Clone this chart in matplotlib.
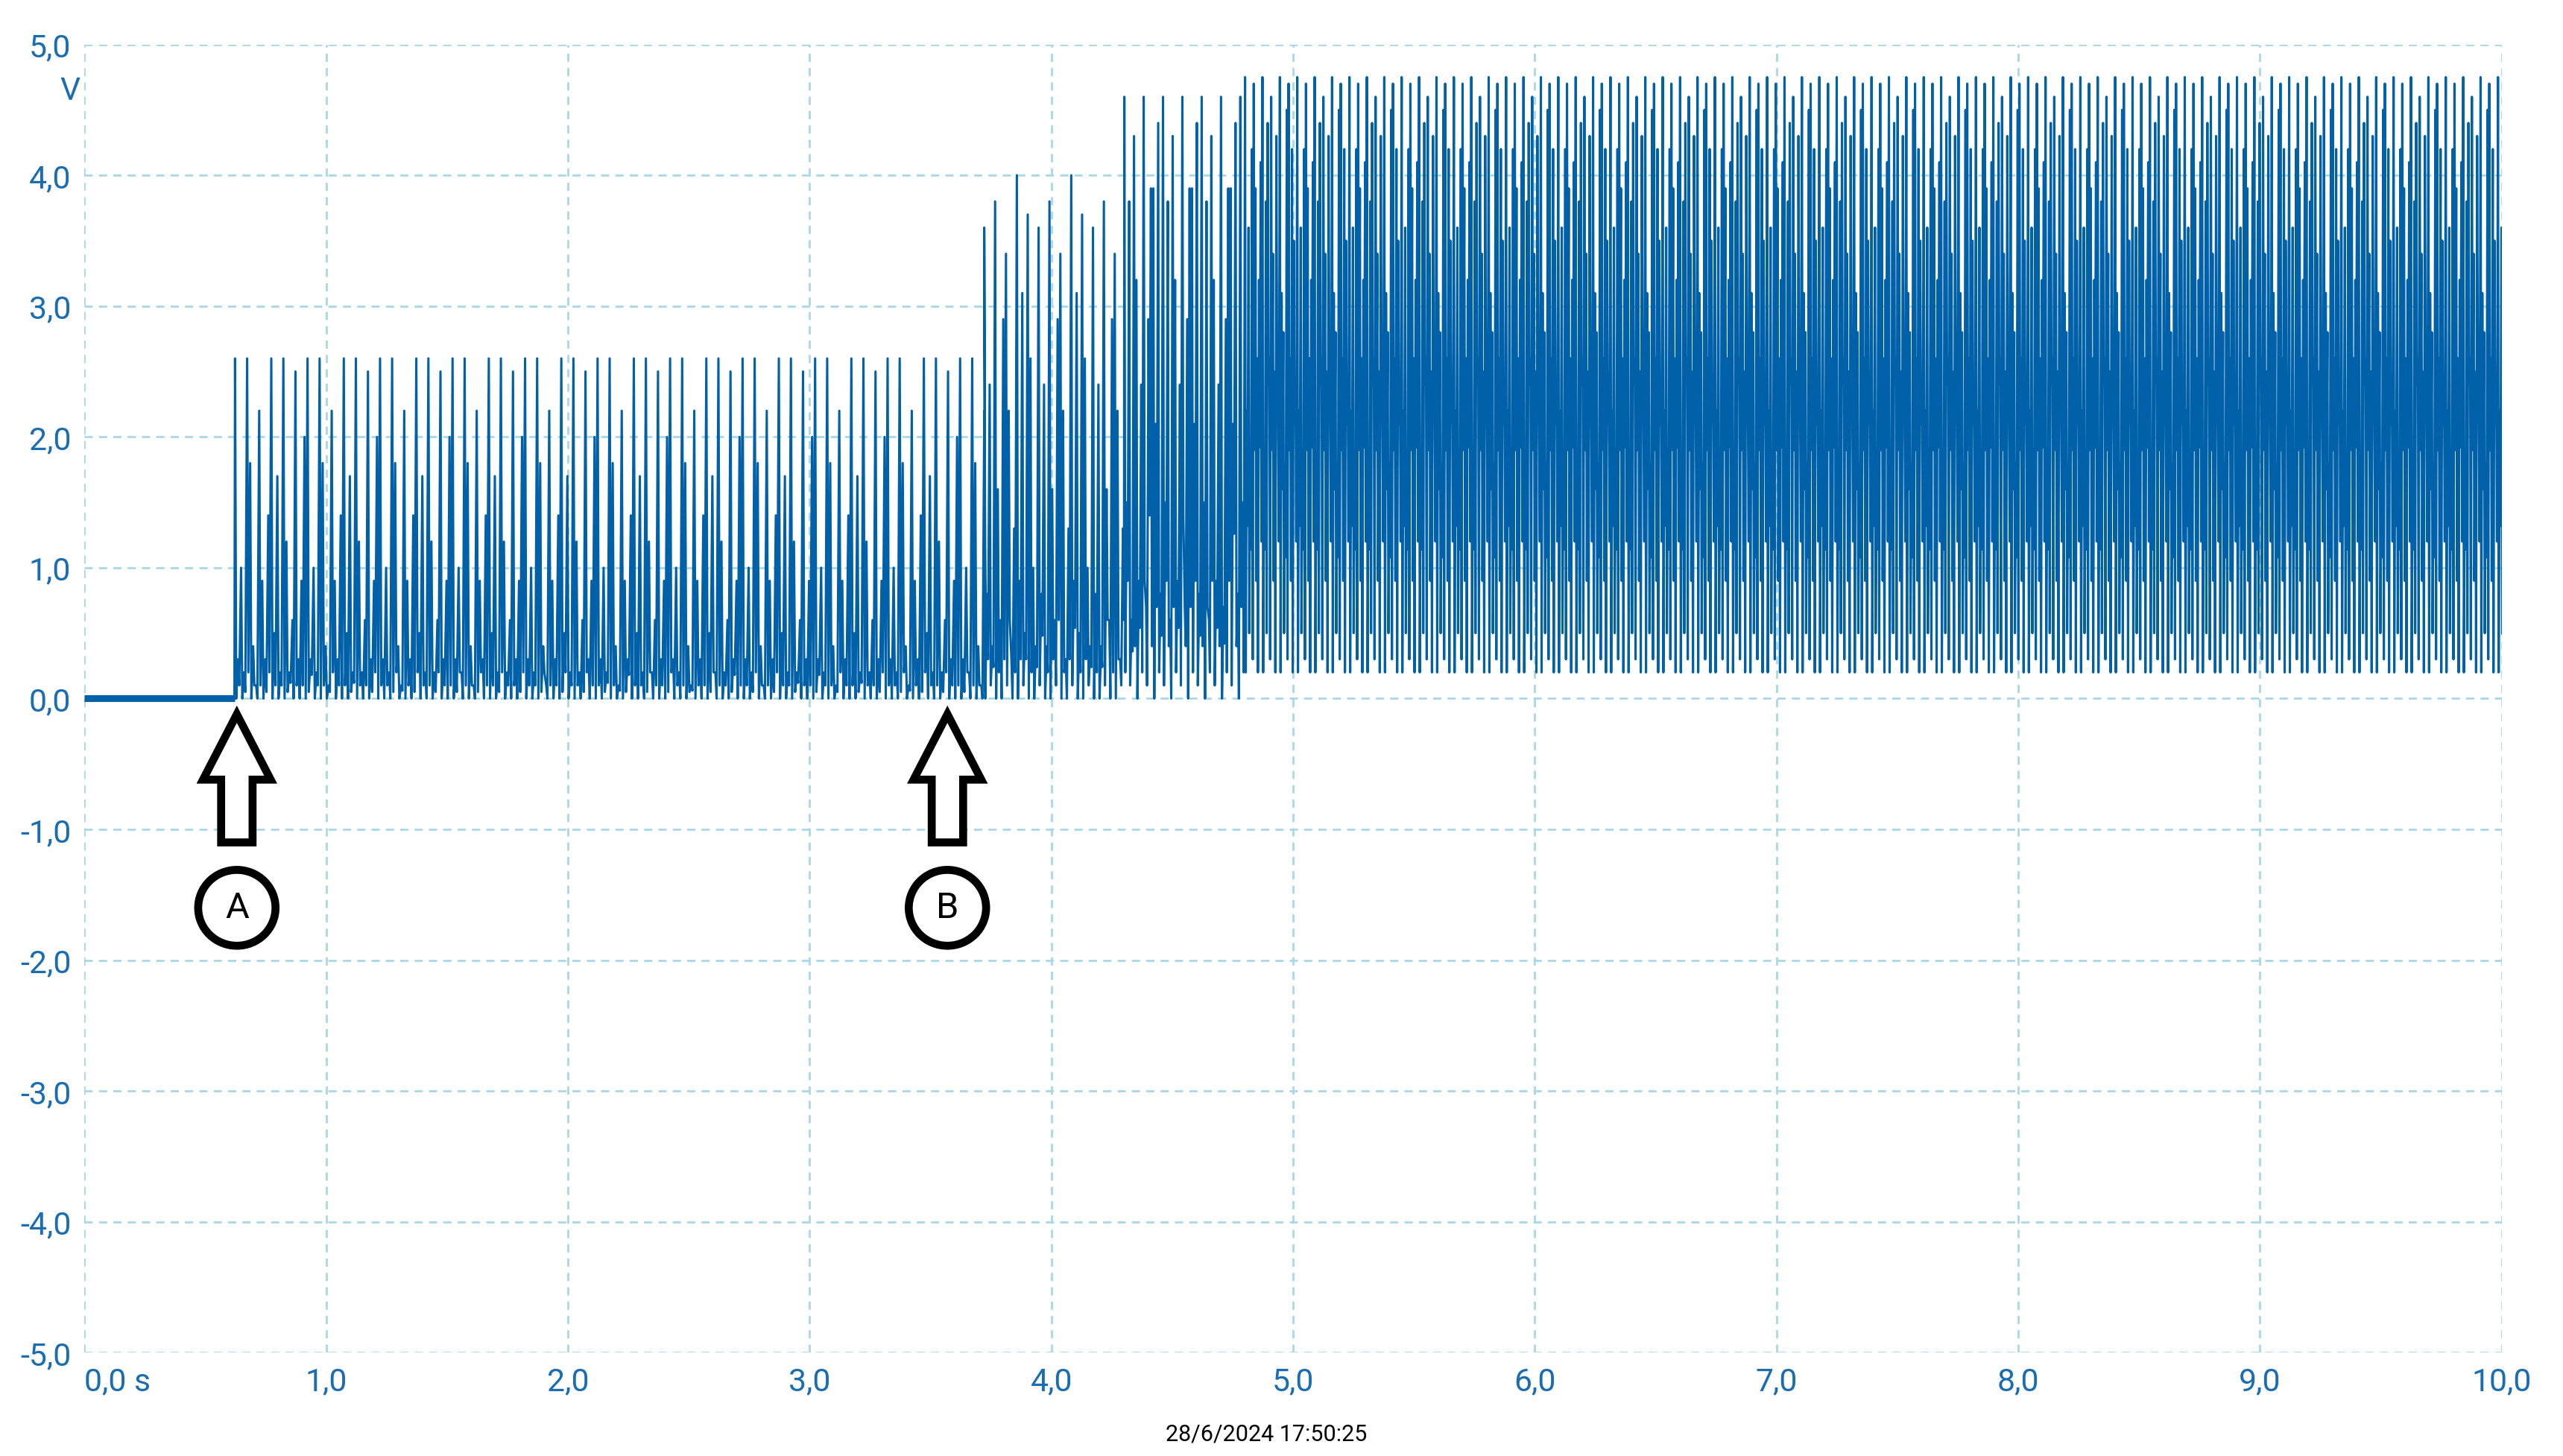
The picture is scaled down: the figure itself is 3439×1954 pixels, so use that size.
import matplotlib
matplotlib.use("Agg")
import matplotlib.pyplot as plt
from matplotlib.patches import Polygon, Ellipse

# Signal regions (seconds)
REGION_START = [0.62, 3.72, 4.30, 4.80]
REGION_END = [3.72, 4.30, 4.80, 10.0]
REGION_PERIOD = [0.050, 0.045, 0.040, 0.036]
# spike heights (V) within one cycle, several cycle shapes per region
REGION_PATTERNS = [
    [[2.6, 0.3, 1.0, 0.2], [2.6, 1.8, 0.4, 0.1], [2.2, 0.9, 0.3, 1.4],
     [2.6, 0.5, 1.7, 0.2], [2.6, 1.2, 0.2, 0.6], [2.5, 0.3, 0.9, 2.0]],
    [[3.6, 0.8, 2.4, 0.4], [3.8, 1.6, 0.6, 2.9], [3.4, 2.2, 0.3, 1.3],
     [4.0, 0.9, 3.1, 0.5], [3.7, 2.6, 1.0, 0.4]],
    [[4.6, 1.5, 3.8, 0.6], [4.3, 3.2, 0.9, 2.4], [4.6, 0.7, 2.9, 3.9],
     [3.9, 2.1, 4.4, 0.8]],
    [[4.75, 2.2, 3.6, 1.9, 4.2], [4.7, 3.9, 2.6, 3.2, 4.1], [4.75, 1.9, 3.8, 4.4, 2.6],
     [4.6, 3.4, 2.5, 4.3, 2.1], [4.75, 3.1, 2.8, 1.8, 4.5], [4.7, 2.6, 4.2, 3.5, 2.4]],
]
# trough levels (V) after each spike, cycled per region
REGION_TROUGHS = [
    [0.0, 0.1, 0.0, 0.05, 0.2, 0.0, 0.1],
    [0.0, 0.3, 0.1, 0.6, 0.0, 0.2],
    [0.2, 0.9, 0.1, 1.4, 0.4, 0.0, 0.7],
    [0.2, 1.6, 0.5, 2.4, 0.3, 1.9, 0.9, 0.2, 2.8, 1.2],
]
FLAT_END = 0.62

XTICKS = [0, 1, 2, 3, 4, 5, 6, 7, 8, 9, 10]
XTICK_LABELS = ["0,0 s", "1,0", "2,0", "3,0", "4,0", "5,0", "6,0", "7,0", "8,0", "9,0", "10,0"]
YTICKS = [-5, -4, -3, -2, -1, 0, 1, 2, 3, 4, 5]
YTICK_LABELS = ["-5,0", "-4,0", "-3,0", "-2,0", "-1,0", "0,0", "1,0", "2,0", "3,0", "4,0", "5,0"]
MARKERS = ["A", "B"]
MARKER_X = [0.63, 3.57]
STAMP = "28/6/2024 17:50:25"

BLUE = "#0060a8"
LABEL = "#1a6db0"
GRID = "#a8d8e6"

plt.rcParams["font.family"] = ["Roboto", "DejaVu Sans"]

# build the trace vertices
xs, ys = [0.0, FLAT_END], [0.0, 0.0]
for start, end, period, pats, troughs in zip(REGION_START, REGION_END, REGION_PERIOD,
                                             REGION_PATTERNS, REGION_TROUGHS):
    t = start
    k = 0
    n = 0
    while t < end:
        pat = pats[k % len(pats)]
        step = period / len(pat)
        for j, h in enumerate(pat):
            t0 = t + j * step
            if t0 >= end:
                break
            lo = min(troughs[n % len(troughs)], h * 0.6)
            xs += [t0 + step * 0.2, t0 + step * 0.6]
            ys += [h, lo]
            n += 1
        t += period
        k += 1

fig = plt.figure(figsize=(15.632, 8.886), dpi=220)
ax = fig.add_axes([0.033, 0.071, 0.943, 0.898])
ax.plot(xs[:2], ys[:2], color=BLUE, lw=3.0, solid_capstyle="butt")
ax.plot(xs[1:], ys[1:], color=BLUE, lw=1.0)

ax.set_xlim(0, 10)
ax.set_ylim(-5, 5)
ax.set_xticks(XTICKS)
ax.set_xticklabels(XTICK_LABELS)
ax.set_yticks(YTICKS)
ax.set_yticklabels(YTICK_LABELS)
ax.get_xticklabels()[0].set_horizontalalignment("left")
ax.tick_params(length=0, labelsize=14, colors=LABEL, pad=6)
ax.grid(True, color=GRID, linestyle=(0, (4, 3)), lw=0.9)
for s in ax.spines.values():
    s.set_visible(False)
ax.text(-0.06, 4.65, "V", color=LABEL, fontsize=14, ha="center", va="center")
fig.text(0.494, 0.008, STAMP, fontsize=10, ha="center", va="bottom")

# annotation arrows and circled letters
for name, mx in zip(MARKERS, MARKER_X):
    w, hw = 0.065, 0.14
    pts = [(mx, -0.12), (mx + hw, -0.62), (mx + w, -0.62), (mx + w, -1.1),
           (mx - w, -1.1), (mx - w, -0.62), (mx - hw, -0.62)]
    ax.add_patch(Polygon(pts, closed=True, fc="white", ec="black", lw=3.5,
                         joinstyle="miter", zorder=5))
    ax.add_patch(Ellipse((mx, -1.6), 0.32, 0.58, fc="white", ec="black", lw=3.5, zorder=5))
    ax.text(mx, -1.6, name, fontsize=16, ha="center", va="center", zorder=6)

fig.savefig("out.png", dpi=220)
